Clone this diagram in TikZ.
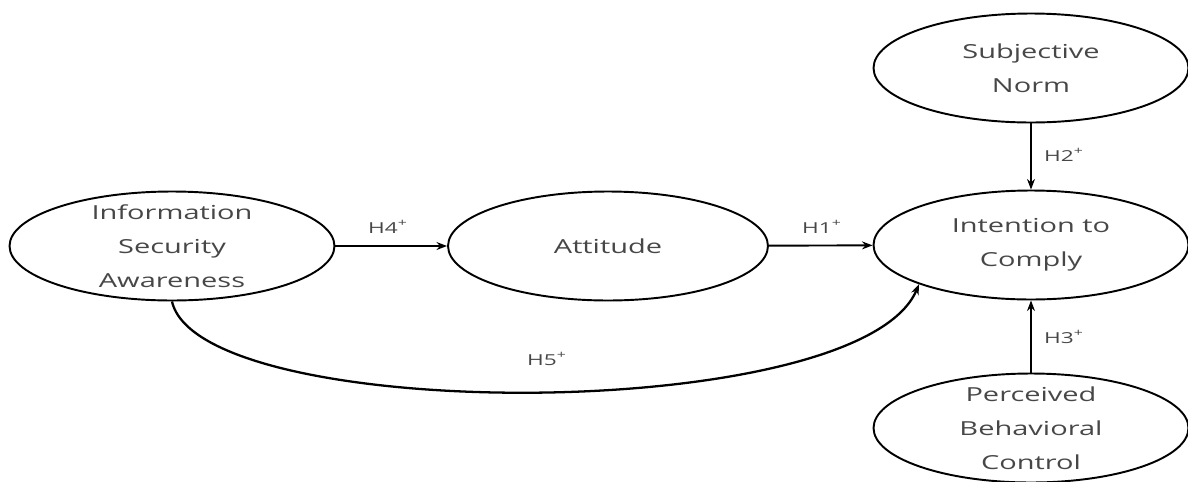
\documentclass[tikz,border=0pt]{standalone}
\usepackage{fontspec}
\setmainfont[FakeStretch=1.5]{Open Sans}
\usetikzlibrary{shapes.geometric,arrows.meta}
\begin{document}
\begin{tikzpicture}[x=0.02cm,y=-0.02cm,
  every node/.style={font=\fontsize{11}{19.3}\selectfont, align=center, text=black!72},
  construct/.style={draw, ellipse, line width=1.1pt, inner sep=0pt, minimum width=6.3cm, minimum height=2.18cm},
  hyp/.style={-{Stealth[length=6pt,width=4.5pt]}, line width=1.1pt},
  hlabel/.style={font=\fontsize{8.6}{10}\selectfont}]
\useasboundingbox (0,0) rectangle (1188,481);

\node[construct, minimum width=6.5cm, label={center:Information\\Security\\Awareness}] (isa) at (172,246) {};
\node[construct, minimum width=6.4cm, label={center:Attitude}] (att) at (608,246) {};
\node[construct, label={center:Intention to\\Comply}] (ic) at (1031,245) {};
\node[construct, label={center:Subjective\\Norm}] (sn) at (1031,68) {};
\node[construct, label={center:Perceived\\Behavioral\\Control}] (pbc) at (1031,428) {};

\draw[hyp] (isa) -- (att);
\node[hlabel] (h4) at (388,227) {H4\textsuperscript{+}};

\draw[hyp] (att) -- (ic);
\node[hlabel] (h1) at (822,227) {H1\textsuperscript{+}};

\draw[hyp, line width=1.6pt] (sn) -- (ic);
\node[hlabel] (h2) at (1064,155) {H2\textsuperscript{+}};

\draw[hyp, line width=1.6pt] (pbc) -- (ic);
\node[hlabel] (h3) at (1064,337) {H3\textsuperscript{+}};

\draw[hyp, line width=1.3pt] (isa.south) .. controls (200,425) and (860,425) .. (ic.south west);
\node[hlabel] (h5) at (547,359) {H5\textsuperscript{+}};
\end{tikzpicture}
\end{document}
